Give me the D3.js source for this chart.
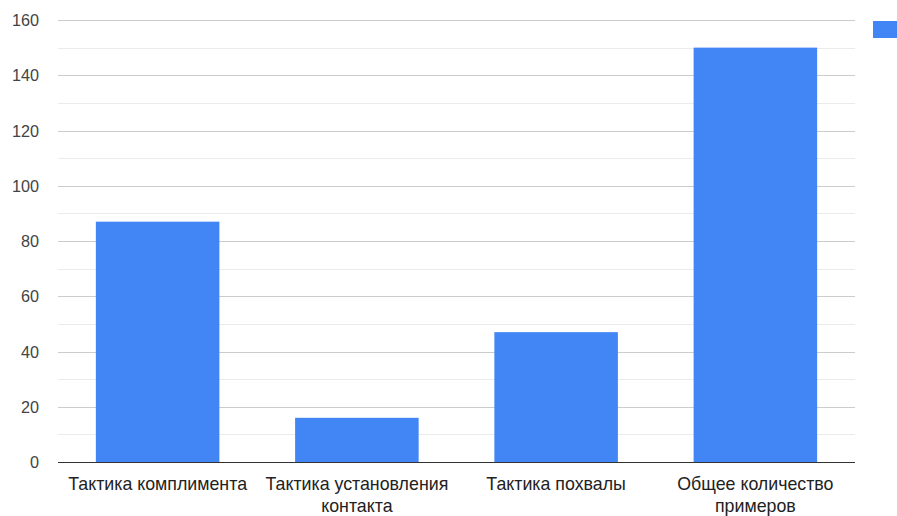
<!DOCTYPE html>
<html><head><meta charset="utf-8">
<script src="https://cdn.jsdelivr.net/npm/d3@7"></script>
<style>body{margin:0;background:#fff;}svg{display:block;font-family:"Liberation Sans",Arial,sans-serif;}</style>
</head><body><svg id="c" width="897" height="516"></svg>
<script>
const categories = [["Тактика комплимента"], ["Тактика установления", "контакта"], ["Тактика похвалы"], ["Общее количество", "примеров"]];
const values = [87, 16, 47, 150];
const majorTicks = [0, 20, 40, 60, 80, 100, 120, 140, 160];
const minorTicks = [10, 30, 50, 70, 90, 110, 130, 150];

(function () {
const svg = d3.select("#c");
const mLeft = 58, mRight = 855, mTop = 20, mBottom = 462;
const x = d3.scaleBand().domain(d3.range(values.length)).range([mLeft, mRight]).paddingInner(0.38).paddingOuter(0.19);
const y = d3.scaleLinear().domain([0, 160]).range([mBottom, mTop]);

svg.selectAll("line.minor").data(minorTicks).enter().append("line")
  .attr("x1", mLeft).attr("x2", mRight).attr("y1", d => Math.round(y(d)) + 0.5).attr("y2", d => Math.round(y(d)) + 0.5)
  .attr("stroke", "#ebebeb");
svg.selectAll("line.major").data(majorTicks.filter(d => d > 0)).enter().append("line")
  .attr("x1", mLeft).attr("x2", mRight).attr("y1", d => Math.round(y(d)) + 0.5).attr("y2", d => Math.round(y(d)) + 0.5)
  .attr("stroke", "#cccccc");

svg.selectAll("rect.bar").data(values).enter().append("rect")
  .attr("x", (d, i) => x(i)).attr("width", x.bandwidth())
  .attr("y", d => y(d)).attr("height", d => mBottom - y(d))
  .attr("fill", "#4285f4");

svg.append("line").attr("x1", mLeft).attr("x2", mRight).attr("y1", mBottom + 0.5).attr("y2", mBottom + 0.5).attr("stroke", "#333");

svg.selectAll("text.yt").data(majorTicks).enter().append("text")
  .attr("x", 39).attr("y", d => y(d) + 6).attr("text-anchor", "end")
  .attr("font-size", 16.2).attr("fill", "#444").text(d => d);

categories.forEach((lines, i) => {
  const cx = x(i) + x.bandwidth() / 2;
  const t = svg.append("text").attr("x", cx).attr("y", 490)
    .attr("text-anchor", "middle").attr("font-size", 17.8).attr("fill", "#222");
  lines.forEach((l, j) => t.append("tspan").attr("x", cx).attr("dy", j ? 22 : 0).text(l));
});

svg.append("rect").attr("x", 873).attr("y", 21).attr("width", 30).attr("height", 17).attr("fill", "#4285f4");
})();
</script></body></html>
